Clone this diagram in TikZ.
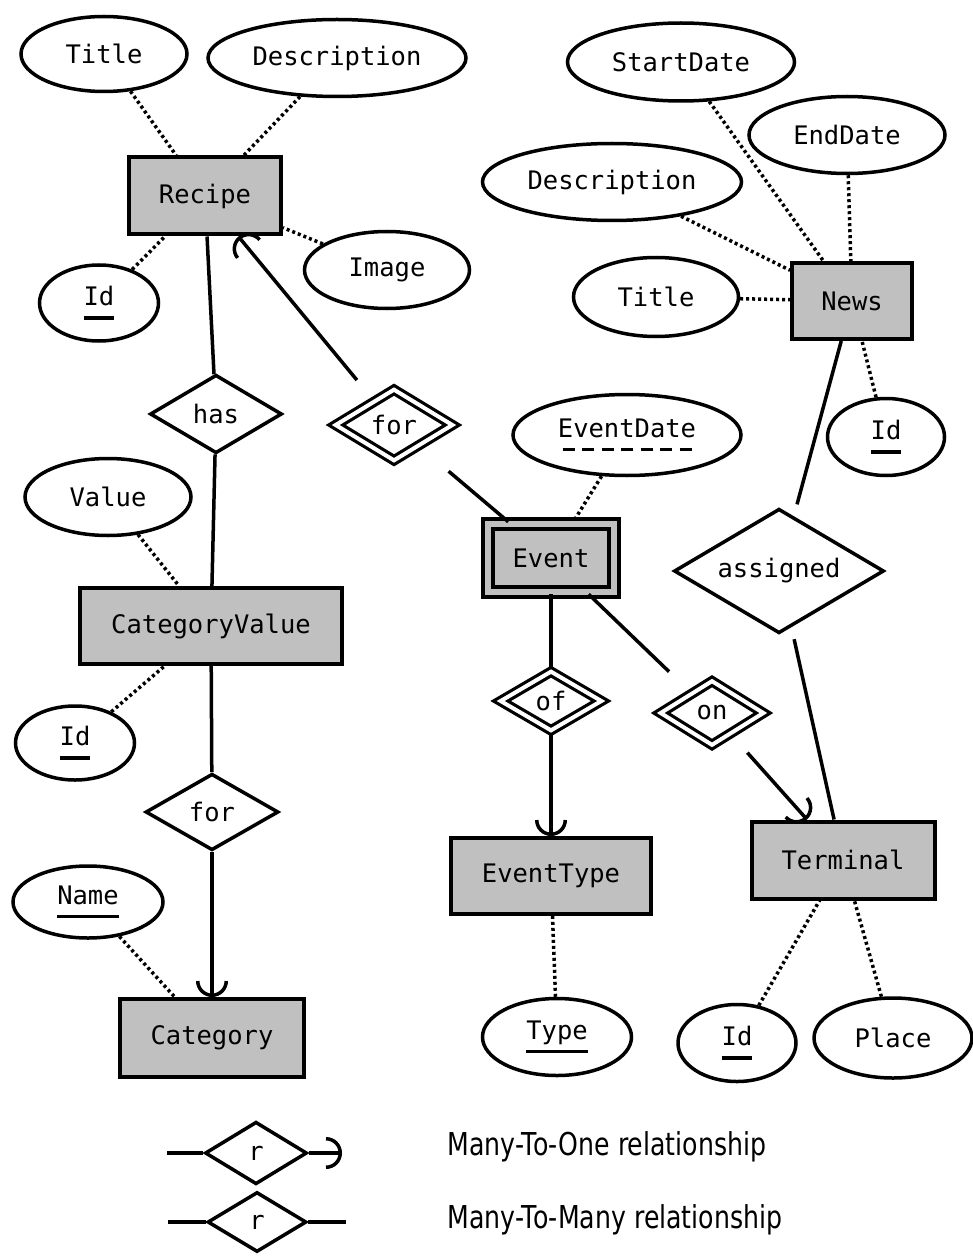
\documentclass[tikz,border=0pt]{standalone}
\usepackage{fontspec}
\usetikzlibrary{shapes.geometric,arrows.meta}
\newfontfamily\ermono{DejaVu Sans Mono}
\newfontfamily\legendfont[FakeStretch=0.8]{DejaVu Sans}
\definecolor{entgray}{RGB}{192,192,192}
% key attributes: solid bar (key) or dashed bar (partial key) under the text
\newcommand{\keyul}[1]{\setbox0\hbox{#1}\rlap{\rule[-14pt]{\wd0}{3.5pt}}\box0}
\newcommand{\partkeyul}[1]{\setbox0\hbox{#1}\rlap{\hbox to \wd0{\cleaders\hbox to 19.5pt{\hss\rule[-14pt]{12pt}{3.5pt}\hss}\hfill}}\box0}

\begin{document}
\begin{tikzpicture}[x=1pt, y=-1pt,
    every node/.style={font=\ermono\fontsize{25.5}{30}\selectfont},
    entity/.style n args={2}{rectangle, draw, line width=4pt, fill=entgray, inner sep=0pt, minimum width=#1, minimum height=#2},
    weakentity/.style n args={2}{entity={#1}{#2}, line width=4.5pt, double=entgray, double distance=5.5pt},
    attrib/.style n args={2}{ellipse, draw, line width=3.5pt, fill=white, inner sep=0pt, minimum width=#1, minimum height=#2},
    rel/.style n args={2}{diamond, aspect=1.7, draw, line width=3.5pt, fill=white, inner sep=0pt, minimum width=#1, minimum height=#2},
    weakrel/.style n args={2}{rel={#1}{#2}, line width=3.2pt, double=white, double distance=4pt},
    attrlink/.style={line width=3.5pt, dash pattern=on 3pt off 3pt},
    link/.style={line width=3.5pt},
    toone/.style={link, -{Arc Barb[width=32pt, length=16pt]}}]

\useasboundingbox (0,0) rectangle (973,1257);

% --- Entities ---
\node[entity={152pt}{77pt}] (recipe) at (205,196) {Recipe};
\node[entity={120pt}{76pt}] (news) at (852,301) {News};
\node[entity={262pt}{76pt}] (catval) at (211,626) {CategoryValue};
\node[weakentity={126pt}{68pt}] (event) at (551,558) {Event};
\node[entity={200pt}{76pt}] (evtype) at (551,876) {EventType};
\node[entity={183pt}{77pt}] (terminal) at (843,860) {Terminal};
\node[entity={184pt}{78pt}] (category) at (212,1038) {Category};

% --- Attributes ---
\node[attrib={166pt}{75pt}] (rtitle) at (104,54) {Title};
\node[attrib={258pt}{77pt}] (rdesc) at (337,58) {Description};
\node[attrib={165pt}{77pt}] (rimage) at (387,270) {Image};
\node[attrib={119pt}{76pt}] (rid) at (99,303) {\keyul{Id}};
\node[attrib={227pt}{78pt}] (nstart) at (681,62) {StartDate};
\node[attrib={196pt}{77pt}] (nend) at (847,135) {EndDate};
\node[attrib={259pt}{77pt}] (ndesc) at (612,182) {Description};
\node[attrib={165pt}{79pt}] (ntitle) at (656,297) {Title};
\node[attrib={117pt}{77pt}] (nid) at (886,437) {\keyul{Id}};
\node[attrib={228pt}{81pt}] (edate) at (627,435) {\partkeyul{EventDate}};
\node[attrib={166pt}{77pt}] (cvvalue) at (108,497) {Value};
\node[attrib={119pt}{74pt}] (cvid) at (75,743) {\keyul{Id}};
\node[attrib={150pt}{72pt}] (cname) at (88,902) {\keyul{Name}};
\node[attrib={149pt}{77pt}] (ettype) at (557,1037) {\keyul{Type}};
\node[attrib={118pt}{77pt}] (tid) at (737,1043) {\keyul{Id}};
\node[attrib={158pt}{80pt}] (tplace) at (893,1038) {Place};

% --- Relationships ---
\node[rel={132pt}{78.5pt}] (has) at (216,414) {has};
\node[weakrel={118pt}{72pt}] (wfor) at (394,425) {for};
\node[rel={210pt}{124.5pt}] (assigned) at (779,571) {assigned};
\node[weakrel={102pt}{60pt}] (of) at (551,701) {of};
\node[weakrel={104pt}{65pt}] (on) at (712,713) {on};
\node[rel={133pt}{76.5pt}] (cfor) at (212,812) {for};

% Attribute links
\foreach \a/\e in {rtitle/recipe, rdesc/recipe, rimage/recipe, rid/recipe,
    nstart/news, nend/news, ndesc/news, ntitle/news, nid/news,
    edate/event, cvvalue/catval, cvid/catval, cname/category,
    ettype/evtype, tid/terminal, tplace/terminal}
  \draw[attrlink] (\a) -- (\e);

% Relationship links
\draw[link] (recipe) -- (has);
\draw[link] (has) -- (catval);
\draw[toone, shorten <=26pt] (wfor) -- (recipe);
\draw[link, shorten >=38pt] (event) -- (wfor);
\draw[link] (event) -- (of);
\draw[toone] (of) -- (evtype);
\draw[link, shorten >=30pt] (event) -- (on);
\draw[toone, shorten <=24pt] (on) -- (terminal);
\draw[link, shorten >=12pt] (news) -- (assigned);
\draw[link, shorten <=12pt] (assigned) -- (terminal);
\draw[link] (catval) -- (cfor);
\draw[toone] (cfor) -- (category);

% --- Legend ---
\node[rel={102pt}{62.5pt}] (lone) at (256,1153) {r};
\node[rel={99pt}{60pt}] (lmany) at (257,1222) {r};
\coordinate (lonein) at (167,1153);
\coordinate (loneout) at (342,1153);
\coordinate (lmanyin) at (168,1222);
\coordinate (lmanyout) at (346,1222);
\draw[link] (lonein) -- (lone);
\draw[toone] (lone) -- (loneout);
\draw[link] (lmanyin) -- (lmany);
\draw[link] (lmany) -- (lmanyout);
\node[anchor=base west, font=\legendfont\fontsize{31.5}{36}\selectfont] (ltxtone) at (444,1155) {Many-To-One relationship};
\node[anchor=base west, font=\legendfont\fontsize{31.5}{36}\selectfont] (ltxtmany) at (444,1228) {Many-To-Many relationship};

\end{tikzpicture}
\end{document}
